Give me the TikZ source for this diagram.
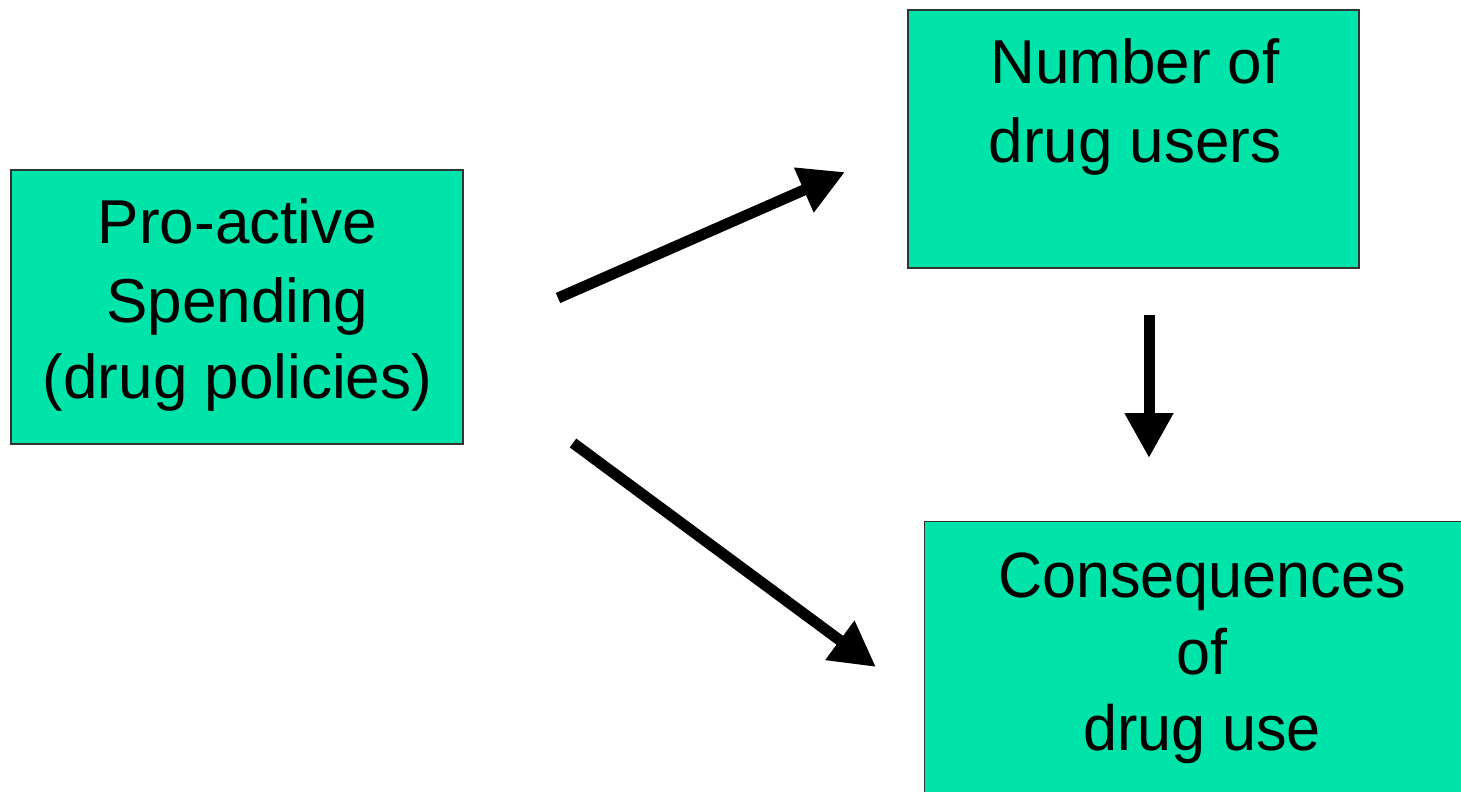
\documentclass[tikz,border=0pt]{standalone}
\usepackage{fontspec}
\setmainfont{Liberation Sans}
\usetikzlibrary{arrows.meta}
\definecolor{boxfill}{HTML}{00E4AA}
\definecolor{boxline}{HTML}{333333}
\tikzset{
  box/.style={draw=boxline, line width=1.2pt, fill=boxfill, rectangle, inner sep=0pt},
  txt/.style={anchor=base, inner sep=0pt, font=\fontsize{62pt}{78pt}\selectfont},
  ctxt/.style={anchor=base, inner sep=0pt, font=\fontsize{64pt}{76pt}\selectfont},
  bigarrow/.style={line width=11pt, -{Triangle[length=45pt,width=46pt]}}
}
\begin{document}
\begin{tikzpicture}[x=1pt,y=-1pt]
\useasboundingbox (0,0) rectangle (1461,792);
\clip (0,0) rectangle (1461,792);
% boxes
\node[box, minimum width=452pt, minimum height=274pt] (pro) at (237,307) {};
\node[box, minimum width=451pt, minimum height=258pt] (num) at (1133.5,139) {};
\node[box, minimum width=560pt, minimum height=300pt, anchor=north west] (cons) at (924,521) {};
% texts
\node[txt] (pro1) at (237.5,243) {Pro-active};
\node[txt] (pro2) at (237.5,322) {Spending};
\node[txt] (pro3) at (237.5,398) {(drug policies)};
\node[txt] (num1) at (1135,83) {Number of};
\node[txt] (num2) at (1135,162) {drug users};
\node[ctxt] (cons1) at (1202,597) {\scalebox{0.955}[1]{Consequences}};
\node[ctxt] (cons2) at (1202,674) {\scalebox{0.955}[1]{of}};
\node[ctxt] (cons3) at (1202,750) {\scalebox{0.955}[1]{drug use}};
% arrow end points
\coordinate (a1s) at (558,298);
\coordinate (a1e) at (845,172);
\coordinate (a2s) at (573,443);
\coordinate (a2e) at (876,667);
\coordinate (a3s) at (1149,315);
\coordinate (a3e) at (1149,458);
\draw[bigarrow] (a1s) -- (a1e);
\draw[bigarrow] (a2s) -- (a2e);
\draw[bigarrow] (a3s) -- (a3e);
\end{tikzpicture}
\end{document}
